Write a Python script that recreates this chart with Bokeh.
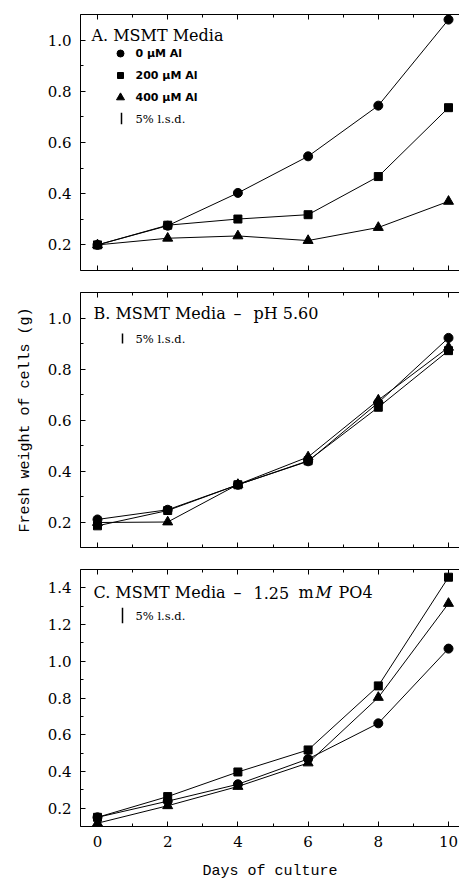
from bokeh.plotting import figure
from bokeh.models import FixedTicker, LinearAxis, Label, Range1d
from bokeh.layouts import column
from bokeh.embed import file_html
from bokeh.resources import INLINE

# ---------------- data ----------------
days = [0, 2, 4, 6, 8, 10]
x_ticks = [0, 2, 4, 6, 8, 10]
x_minor = [1, 3, 5, 7, 9]
x_tick_labels = ["0", "2", "4", "6", "8", "10"]

series_names = ["0 \u00b5M Al", "200 \u00b5M Al", "400 \u00b5M Al"]

# Panel A: MSMT Media
a_0 = [0.200, 0.275, 0.403, 0.546, 0.744, 1.080]
a_200 = [0.200, 0.277, 0.301, 0.318, 0.467, 0.736]
a_400 = [0.200, 0.226, 0.235, 0.217, 0.268, 0.370]
a_lsd = 0.045

# Panel B: MSMT Media - pH 5.60
b_0 = [0.210, 0.248, 0.346, 0.438, 0.668, 0.922]
b_200 = [0.185, 0.245, 0.346, 0.440, 0.650, 0.872]
b_400 = [0.198, 0.200, 0.347, 0.455, 0.678, 0.885]
b_lsd = 0.040

# Panel C: MSMT Media - 1.25 mM PO4
c_0 = [0.150, 0.238, 0.330, 0.468, 0.662, 1.069]
c_200 = [0.150, 0.263, 0.397, 0.517, 0.866, 1.458]
c_400 = [0.118, 0.213, 0.318, 0.446, 0.803, 1.315]
c_lsd = 0.085

y_ticks_ab = [0.2, 0.4, 0.6, 0.8, 1.0]
y_minor_ab = [0.1, 0.3, 0.5, 0.7, 0.9, 1.1]
y_tick_labels_ab = ["0.2", "0.4", "0.6", "0.8", "1.0"]
y_ticks_c = [0.2, 0.4, 0.6, 0.8, 1.0, 1.2, 1.4]
y_minor_c = [0.1, 0.3, 0.5, 0.7, 0.9, 1.1, 1.3, 1.5]
y_tick_labels_c = ["0.2", "0.4", "0.6", "0.8", "1.0", "1.2", "1.4"]

# ---------------- styling ----------------
SERIF = "DejaVu Serif"
MONO = "Liberation Mono"
X_START, X_END = -0.484, 10.313
FIG_W = 459
BORDER_L = 80
FRAME_W = FIG_W - BORDER_L
markers = ["circle", "square", "triangle"]
msizes = [9, 8, 10]
key_sizes = [7, 6, 8]


def style_axis(ax, ticks, minor, labels, show_labels=True):
    ax.ticker = FixedTicker(ticks=ticks, minor_ticks=minor)
    ax.major_label_overrides = {t: l for t, l in zip(ticks, labels)}
    ax.axis_line_color = "black"
    ax.axis_line_width = 1
    ax.major_tick_in = 5
    ax.major_tick_out = 0
    ax.minor_tick_in = 3
    ax.minor_tick_out = 0
    ax.major_tick_line_color = "black"
    ax.minor_tick_line_color = "black"
    if show_labels:
        ax.major_label_text_font = SERIF
        ax.major_label_text_font_size = "15px"
        ax.major_label_text_color = "black"
        ax.major_label_standoff = 9
    else:
        ax.major_label_text_font_size = "1px"
        ax.major_label_text_color = None
        ax.major_label_standoff = 0


class Panel:
    def __init__(self, height, b_top, b_bottom, y_end):
        self.frame_h = height - b_top - b_bottom
        self.y_end = y_end
        self.p = figure(width=FIG_W, height=height, output_backend="svg", toolbar_location=None,
                        x_range=Range1d(X_START, X_END), y_range=Range1d(0.1, y_end),
                        min_border_left=BORDER_L, min_border_right=0,
                        min_border_top=b_top, min_border_bottom=b_bottom,
                        background_fill_color="white", border_fill_color="white")
        self.p.outline_line_color = None
        self.p.grid.visible = False

    # screen offset (from frame top-left) -> data coordinates
    def dx(self, ox):
        return X_START + ox / FRAME_W * (X_END - X_START)

    def dy(self, oy):
        return self.y_end - oy / self.frame_h * (self.y_end - 0.1)

    def text(self, txt, ox, oy, font=SERIF, size="16px", style="normal"):
        self.p.add_layout(Label(x=ox, y=self.frame_h - oy, x_units="screen", y_units="screen",
                                text=txt, text_font=font, text_font_size=size,
                                text_font_style=style, text_baseline="middle",
                                text_color="black"))


def make_panel(height, b_top, b_bottom, y_end, yt, ym, ylabels, series, lsd,
               title_parts, title_dy, lsd_dx, lsd_dy, show_x_labels,
               ylabel=None, xlabel=None):
    pn = Panel(height, b_top, b_bottom, y_end)
    p = pn.p
    bottom = p.below[0]
    left = p.left[0]
    style_axis(bottom, x_ticks, x_minor, x_tick_labels, show_x_labels)
    style_axis(left, yt, ym, ylabels, True)
    top = LinearAxis()
    style_axis(top, x_ticks, x_minor, x_tick_labels, False)
    p.add_layout(top, "above")

    if ylabel:
        left.axis_label = ylabel
        left.axis_label_text_font = MONO
        left.axis_label_text_font_size = "15px"
        left.axis_label_text_font_style = "normal"
        left.axis_label_text_color = "black"
        left.axis_label_standoff = 11
    if xlabel:
        bottom.axis_label = xlabel
        bottom.axis_label_text_font = MONO
        bottom.axis_label_text_font_size = "15px"
        bottom.axis_label_text_font_style = "normal"
        bottom.axis_label_text_color = "black"
        bottom.axis_label_standoff = 13

    for vals, mk, ms in zip(series, markers, msizes):
        p.line(days, vals, line_color="black", line_width=1)
        p.scatter(days, vals, marker=mk, size=ms, fill_color="black", line_color="black")

    for txt, ox, italic in title_parts:
        pn.text(txt, ox, title_dy, style="italic" if italic else "normal")

    # 5% l.s.d. bar (length = lsd in data units)
    cx = pn.dx(lsd_dx)
    cy = pn.dy(lsd_dy)
    p.segment(x0=[cx], y0=[cy - lsd / 2], x1=[cx], y1=[cy + lsd / 2],
              line_color="black", line_width=1.5)
    pn.text("5% l.s.d.", 55, lsd_dy, size="11.5px")
    return pn


pnA = make_panel(281, 14, 11, 1.1, y_ticks_ab, y_minor_ab, y_tick_labels_ab,
                 [a_0, a_200, a_400], a_lsd,
                 [("A. MSMT Media", 11, False)], 21, 41, 104, False)
# legend keys for panel A
for i, (name, mk, ks) in enumerate(zip(series_names, markers, key_sizes)):
    oy = 39 + 22 * i
    pnA.p.scatter([pnA.dx(40)], [pnA.dy(oy)], marker=mk, size=ks,
                  fill_color="black", line_color="black")
    pnA.text(name, 55, oy, font="DejaVu Sans", size="11px", style="bold")

pnB = make_panel(277, 11, 11, 1.1, y_ticks_ab, y_minor_ab, y_tick_labels_ab,
                 [b_0, b_200, b_400], b_lsd,
                 [("B. MSMT Media", 13, False), ("\u2013", 153, False), ("pH 5.60", 173, False)],
                 21, 42, 46, False, ylabel="Fresh weight of cells (g)")

pnC = make_panel(325, 11, 57, 1.5, y_ticks_c, y_minor_c, y_tick_labels_c,
                 [c_0, c_200, c_400], c_lsd,
                 [("C. MSMT Media", 13, False), ("\u2013", 153, False), ("1.25", 173, False),
                  ("m", 218, False), ("M", 235, True), ("PO4", 258, False)],
                 23, 42, 46, True, xlabel="Days of culture")

layout = column(pnA.p, pnB.p, pnC.p, spacing=0)
open("out.html", "w").write(file_html(layout, INLINE))
